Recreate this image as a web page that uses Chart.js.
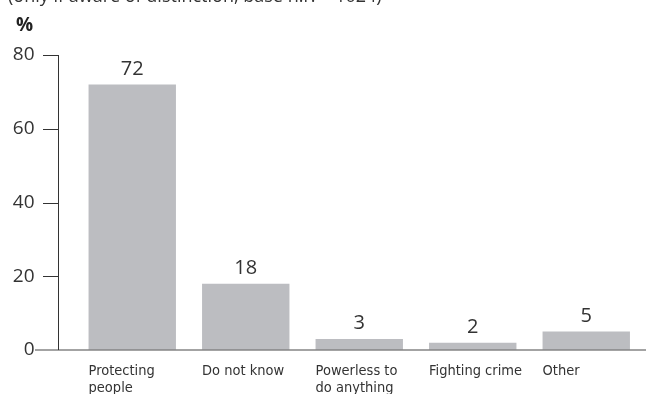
<!DOCTYPE html>
<html>
<head>
<meta charset="utf-8">
<script src="https://cdn.jsdelivr.net/npm/chart.js@4"></script>
<style>
  html, body { margin: 0; padding: 0; background: #fff; }
  #wrap { position: relative; width: 646px; height: 394px; overflow: hidden; }
  #note { position: absolute; left: 8px; top: -17px; font: 18px "Open Sans", sans-serif; color: #333; white-space: nowrap; }
  #unit { position: absolute; left: 16px; top: 11px; font: bold 19px "Open Sans", sans-serif; color: #222; }
</style>
</head>
<body>
<div id="wrap">
  <div id="note">(only if aware of distinction, base n.r. = 1024)</div>
  <div id="unit">%</div>
  <canvas id="barChart" width="646" height="394"></canvas>
</div>
<script>
// Dados do gráfico
const categorias = [['Protecting', 'people'], ['Do not know'], ['Powerless to', 'do anything'], ['Fighting crime'], ['Other']];
const valores = [72, 18, 3, 2, 5];
const ticksY = [0, 20, 40, 60, 80];

const corBarra = '#bcbdc1';
const fonteNum = '"Open Sans", sans-serif';
const fonteCat = '"DejaVu Sans Condensed", sans-serif';

// Desenha o eixo Y, a linha de base, os rótulos de categoria e os valores
const eixosPlugin = {
    id: 'eixos',
    afterDatasetsDraw(chart) {
        const ctx = chart.ctx;
        const y = chart.scales.y;
        const area = chart.chartArea;
        const eixoX = area.left - 17.5;
        const base = y.getPixelForValue(0);
        const bars = chart.getDatasetMeta(0).data;

        ctx.save();
        // linha de base
        ctx.strokeStyle = '#858585';
        ctx.lineWidth = 1.5;
        ctx.beginPath();
        ctx.moveTo(35, base);
        ctx.lineTo(chart.width, base);
        ctx.stroke();

        // eixo vertical e marcas
        ctx.strokeStyle = '#333';
        ctx.lineWidth = 1;
        ctx.beginPath();
        ctx.moveTo(eixoX + 0.5, y.getPixelForValue(ticksY[ticksY.length - 1]));
        ctx.lineTo(eixoX + 0.5, base);
        ticksY.slice(1).forEach(t => {
            const py = Math.round(y.getPixelForValue(t)) + 0.5;
            ctx.moveTo(eixoX - 15, py);
            ctx.lineTo(eixoX + 1, py);
        });
        ctx.stroke();

        // valores acima das barras
        ctx.fillStyle = '#333';
        ctx.font = '20px ' + fonteNum;
        ctx.textAlign = 'center';
        ctx.textBaseline = 'alphabetic';
        bars.forEach((bar, i) => {
            ctx.fillText(valores[i], bar.x, bar.y - 10);
        });

        // rótulos das categorias, alinhados à esquerda da barra
        ctx.font = '14.5px ' + fonteCat;
        ctx.textAlign = 'left';
        bars.forEach((bar, i) => {
            const esq = bar.x - bar.width / 2;
            categorias[i].forEach((linha, j) => {
                ctx.fillText(linha, esq, base + 25 + j * 17);
            });
        });
        ctx.restore();
    }
};

function desenhar() {
    new Chart(document.getElementById('barChart'), {
        type: 'bar',
        data: {
            labels: categorias.map(c => c.join(' ')),
            datasets: [{
                data: valores,
                backgroundColor: corBarra,
                borderWidth: 0,
                barPercentage: 0.77,
                categoryPercentage: 1
            }]
        },
        options: {
            responsive: false,
            animation: false,
            events: [],
            layout: { padding: { top: 55, bottom: 44, right: 3, left: 0 } },
            plugins: { legend: { display: false }, tooltip: { enabled: false } },
            scales: {
                x: { display: false },
                y: {
                    min: 0,
                    max: 80,
                    afterFit: s => { s.width = 75.5; },
                    afterBuildTicks: s => { s.ticks = ticksY.map(v => ({ value: v })); },
                    // tickLength só afasta os rótulos; as marcas são desenhadas no plugin
                    grid: { display: false, drawTicks: true, tickLength: 41 },
                    border: { display: false },
                    ticks: {
                        padding: 0,
                        color: '#333',
                        font: { family: '"Open Sans", sans-serif', size: 19 }
                    }
                }
            }
        },
        plugins: [eixosPlugin]
    });
}

// espera as fontes antes de desenhar no canvas
Promise.all([
    document.fonts.load('19px "Open Sans"'),
    document.fonts.load('14.5px "DejaVu Sans Condensed"')
]).then(desenhar, desenhar);
</script>
</body>
</html>
